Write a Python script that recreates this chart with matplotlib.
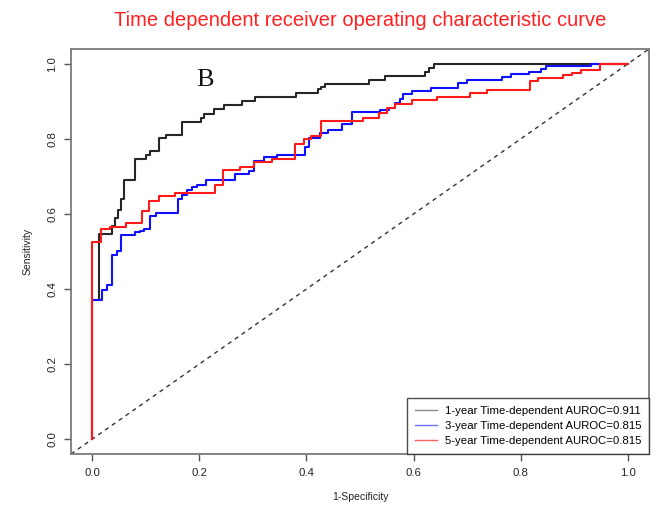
import matplotlib
matplotlib.use("Agg")
import matplotlib.pyplot as plt

plt.rcParams["font.family"] = ["Liberation Sans", "DejaVu Sans"]

TITLE = "Time dependent receiver operating characteristic curve"
PANEL = "B"

# step curves: at each fpr the curve jumps up to tpr, then runs right
black_fpr = [0.000, 0.000, 0.013, 0.037, 0.042, 0.047, 0.053, 0.059, 0.079, 0.101,
             0.108, 0.125, 0.138, 0.168, 0.202, 0.208, 0.227, 0.245, 0.280, 0.304,
             0.380, 0.421, 0.427, 0.434, 0.516, 0.546, 0.622, 0.629, 0.638, 1.000]
black_tpr = [0.000, 0.371, 0.546, 0.568, 0.590, 0.612, 0.640, 0.691, 0.747, 0.757,
             0.767, 0.802, 0.812, 0.846, 0.855, 0.866, 0.879, 0.891, 0.902, 0.913,
             0.923, 0.933, 0.940, 0.946, 0.957, 0.968, 0.979, 0.990, 1.000, 1.000]

blue_fpr = [0.000, 0.000, 0.018, 0.027, 0.037, 0.046, 0.054, 0.080, 0.088, 0.096,
            0.108, 0.118, 0.160, 0.168, 0.177, 0.186, 0.196, 0.212, 0.266, 0.292,
            0.302, 0.320, 0.345, 0.398, 0.405, 0.425, 0.440, 0.466, 0.485, 0.538,
            0.555, 0.566, 0.575, 0.581, 0.597, 0.632, 0.683, 0.700, 0.766, 0.782,
            0.816, 0.839, 0.847, 0.931, 1.000]
blue_tpr = [0.000, 0.371, 0.397, 0.412, 0.492, 0.501, 0.544, 0.551, 0.556, 0.560,
            0.596, 0.602, 0.640, 0.651, 0.664, 0.671, 0.677, 0.691, 0.706, 0.714,
            0.742, 0.751, 0.757, 0.780, 0.802, 0.815, 0.824, 0.840, 0.871, 0.877,
            0.884, 0.895, 0.906, 0.921, 0.929, 0.937, 0.950, 0.958, 0.966, 0.973,
            0.980, 0.988, 0.995, 1.000, 1.000]

red_fpr = [0.000, 0.000, 0.016, 0.032, 0.062, 0.092, 0.106, 0.124, 0.154, 0.229,
           0.244, 0.275, 0.302, 0.336, 0.379, 0.395, 0.408, 0.428, 0.505, 0.535,
           0.551, 0.566, 0.597, 0.644, 0.706, 0.738, 0.817, 0.833, 0.880, 0.896,
           0.913, 0.948, 1.000]
red_tpr = [0.000, 0.525, 0.559, 0.566, 0.575, 0.608, 0.635, 0.649, 0.656, 0.677,
           0.718, 0.725, 0.739, 0.748, 0.788, 0.800, 0.808, 0.849, 0.855, 0.870,
           0.882, 0.894, 0.903, 0.911, 0.924, 0.932, 0.956, 0.963, 0.970, 0.976,
           0.983, 1.000, 1.000]

labels = [
    "1-year Time-dependent AUROC=0.911",
    "3-year Time-dependent AUROC=0.815",
    "5-year Time-dependent AUROC=0.815",
]
ticks = [0.0, 0.2, 0.4, 0.6, 0.8, 1.0]


def main() -> None:
    fig = plt.figure(figsize=(6.65, 5.07), dpi=100)
    ax = fig.add_axes([71 / 665, 53 / 507, 578 / 665, 405 / 507])

    curves = [
        (black_fpr, black_tpr, "#262626"),
        (blue_fpr, blue_tpr, "#1010ff"),
        (red_fpr, red_tpr, "#ff1a1a"),
    ]
    for fpr, tpr, color in curves:
        ax.step(fpr, tpr, where="post", color=color, linewidth=1.5, zorder=3)

    ax.axline((0, 0), slope=1, color="#333333", linewidth=1.0,
              linestyle=(0, (3, 3)), zorder=2)

    ax.set_xlim(-0.04, 1.04)
    ax.set_ylim(-0.04, 1.04)
    ax.set_xticks(ticks)
    ax.set_yticks(ticks)
    ax.set_xticklabels([f"{t:.1f}" for t in ticks])
    ax.set_yticklabels([f"{t:.1f}" for t in ticks], rotation=90, va="center")
    ax.tick_params(axis="both", direction="out", length=5, width=1.0,
                   color="#555555", labelsize=8.2, labelcolor="#222222")
    ax.tick_params(axis="x", pad=5)
    ax.tick_params(axis="y", pad=5)
    for spine in ax.spines.values():
        spine.set_color("#7a7a7a")
        spine.set_linewidth(1.3)

    ax.set_xlabel("1-Specificity", fontsize=7.5, color="#222222")
    ax.set_ylabel("Sensitivity", fontsize=7.5, color="#222222")
    ax.xaxis.set_label_coords(0.5, -0.106)
    ax.xaxis.label.set_va("center")
    ax.yaxis.set_label_coords(-0.075, 0.5)
    ax.yaxis.label.set_va("center")

    ax.text(0.211, 0.957, PANEL, fontsize=19, family="Liberation Serif",
            ha="center", va="center", color="#111111")

    handles = [
        plt.Line2D([], [], color="#8a8a8a", linewidth=1.0),
        plt.Line2D([], [], color="#7070ff", linewidth=1.0),
        plt.Line2D([], [], color="#ff6060", linewidth=1.0),
    ]
    leg = ax.legend(handles, labels, loc="lower right", borderaxespad=0,
                    fontsize=8.2, frameon=True, fancybox=False, handlelength=1.9,
                    handletextpad=0.7, labelspacing=0.45, borderpad=0.7)
    leg.get_frame().set_edgecolor("#222222")
    leg.get_frame().set_linewidth(1.0)

    fig.text(360 / 665, 1 - 21 / 507, TITLE, color="#ff2020", fontsize=14.5,
             ha="center", va="center")

    fig.savefig("out.png", dpi=100)
    plt.close(fig)


if __name__ == "__main__":
    main()
